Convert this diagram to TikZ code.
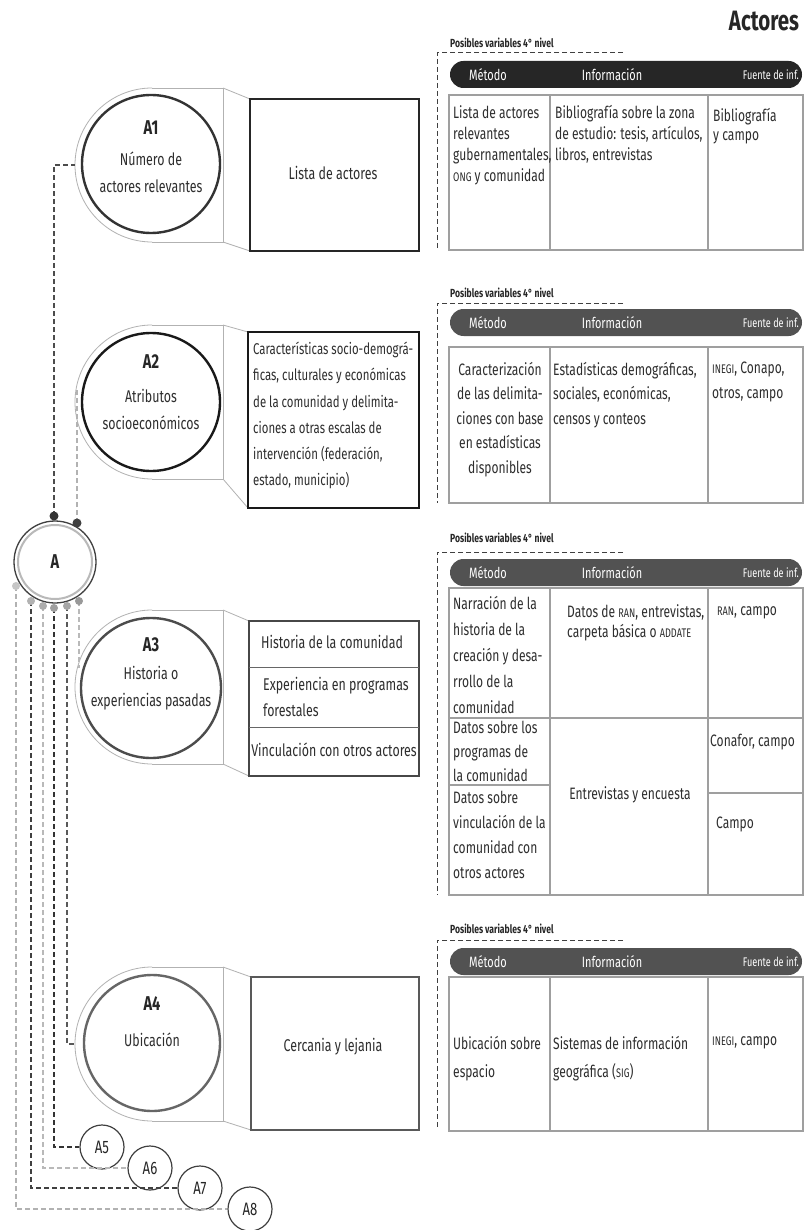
\documentclass[tikz,border=0pt]{standalone}
\usepackage{fontspec}
\setmainfont{Fira Sans}[FakeStretch=0.73]
\newcommand\mysc[1]{{\fontsize{12.5}{12}\selectfont #1}}
\newcommand\mytab[4]{%
 \begin{scope}\clip (60,{#1-90}) rectangle (152,{#1+90});
 \draw[tabline] (152,#1) circle[radius=77];
 \end{scope}
 \draw[tabline] (152,{#1-77}) -- (223,{#1-77}) -- (223,{#1+77}) -- (152,{#1+77});
 \draw[tabline] (223,{#1-77}) -- (#4,#2);
 \draw[tabline] (223,{#1+77}) -- (#4,#3);
}
\begin{document}
\begin{tikzpicture}[x=1pt,y=-1pt,
 tabline/.style={draw=gray!60, line width=0.8pt},
 incirc/.style={circle, draw=#1, line width=2.4pt, minimum size=138pt, inner sep=0},
 bigbox/.style={draw=#1, line width=2.6pt, inner sep=0},
 tbl/.style={draw=gray!75, line width=1.1pt},
 hdrtxt/.style={text=white, font=\fontsize{15}{15}\selectfont, inner sep=0},
 fuente/.style={text=white, font=\fontsize{12.5}{12}\selectfont, inner sep=0, anchor=east},
 cell/.style={font=\fontsize{16.5}{#1}\selectfont, text=black!82, inner sep=0, align=left, anchor=north west},
 cell/.default=21,
 boxt/.style={font=\fontsize{17}{26}\selectfont, text=black!82, inner sep=0},
 lbl/.style={font=\bfseries\fontsize{20}{20}\selectfont, text=black!85, inner sep=0},
 ctext/.style={font=\fontsize{17}{27}\selectfont, text=black!82, inner sep=0, align=center},
 lead/.style={dash pattern=on 5pt off 3pt, line width=1.2pt},
 bracket/.style={dash pattern=on 5pt off 3pt, line width=1pt, draw=black!75},
 poss/.style={font=\bfseries\fontsize{11.75}{12}\selectfont, anchor=west, inner sep=0, text=black!85},
 smallc/.style={circle, draw=black!75, line width=1.2pt, minimum size=44pt, inner sep=0, font=\fontsize{18}{18}\selectfont, text=black!85}
]
\fill[white] (0,0) rectangle (804,1230);
\useasboundingbox (0,0) rectangle (804,1230);

% title
\node[font=\bfseries\fontsize{28}{28}\selectfont, text=black!85, inner sep=0] (title) at (764,21) {Actores};

% ---------- row 1 ----------
\mytab{165}{99}{251}{250}
\node[incirc=black!80] (A1) at (151,164) {};
\node[lbl] (A1l) at (151,128) {A1};
\node[ctext] (A1t) at (151,172) {Número de\\actores relevantes};
\node[bigbox=black!85, minimum width=169pt, minimum height=152pt] (b1) at (334.5,175) {};
\node[boxt] (b1t) at (333,173) {Lista de actores};

\node[poss] (p1) at (450,43) {Posibles variables 4° nivel};
\draw[bracket] (623,53) -- (437,53) -- (437,250);
\fill[black!85, rounded corners=13.5pt] (450,61) rectangle (802,88);
\node[hdrtxt] (h1a) at (488,74.5) {Método};
\node[hdrtxt] (h1b) at (612,74.5) {Información};
\node[fuente] (h1c) at (799,74.5) {Fuente de inf.};
\draw[tbl] (449,95) rectangle (803,250);
\draw[tbl] (550,95) -- (550,250);
\draw[tbl] (708,95) -- (708,250);
\node[cell] (c11) at (453,105) {Lista de actores\\relevantes\\gubernamentales,\\\mysc{ONG} y comunidad};
\node[cell] (c12) at (555,105) {Bibliografía sobre la zona\\de estudio: tesis, artículos,\\libros, entrevistas};
\node[cell=19] (c13) at (713,108) {Bibliografía\\y campo};

% ---------- row 2 ----------
\mytab{402}{332}{508}{248}
\node[incirc=black!90] (A2) at (151,402) {};
\node[lbl] (A2l) at (151,362) {A2};
\node[ctext] (A2t) at (151,409) {Atributos\\socioeconómicos};
\node[bigbox=black!90, minimum width=171pt, minimum height=176pt] (b2) at (333.5,420) {};
\node[boxt, font=\fontsize{15.6}{26.2}\selectfont, align=left, anchor=north west] (b2t) at (253,342) {Características socio-demográ-\\ficas, culturales y económicas\\de la comunidad y delimita-\\ciones a otras escalas de\\intervención (federación,\\estado, municipio)};

\node[poss] (p2) at (450,293) {Posibles variables 4° nivel};
\draw[bracket] (623,303) -- (437,303) -- (437,503);
\fill[black!68, rounded corners=13.5pt] (450,309) rectangle (802,336);
\node[hdrtxt] (h2a) at (488,322.5) {Método};
\node[hdrtxt] (h2b) at (612,322.5) {Información};
\node[fuente] (h2c) at (799,322.5) {Fuente de inf.};
\draw[tbl] (449,347) rectangle (803,503);
\draw[tbl] (550,347) -- (550,503);
\draw[tbl] (708,347) -- (708,503);
\node[cell=24.5, align=center, anchor=north] (c21) at (500,362) {Caracterización\\de las delimita-\\ciones con base\\en estadísticas\\disponibles};
\node[cell=24.5] (c22) at (553,362) {Estadísticas demográficas,\\sociales, económicas,\\censos y conteos};
\node[cell=24.5] (c23) at (712,362) {\mysc{INEGI}, Conapo,\\otros, campo};

% ---------- row 3 ----------
\mytab{687}{621}{776}{249}
\node[incirc=black!70, minimum size=140pt] (A3) at (151,688) {};
\node[lbl] (A3l) at (151,645) {A3};
\node[ctext] (A3t) at (151,688.5) {Historia o\\experiencias pasadas};
\node[bigbox=black!72, minimum width=170pt, minimum height=155pt] (b3) at (334,698.5) {};
\draw[black!60, line width=1pt] (249,667) -- (419,667);
\draw[black!60, line width=1pt] (249,727) -- (419,727);
\node[boxt] (b3a) at (332,642) {Historia de la comunidad};
\node[boxt, align=left, anchor=north west] (b3b) at (263,677) {Experiencia en programas\\forestales};
\node[boxt] (b3c) at (334,750) {Vinculación con otros actores};

\node[poss] (p3) at (450,538) {Posibles variables 4° nivel};
\draw[bracket] (623,552) -- (437,552) -- (437,895);
\fill[black!68, rounded corners=13.5pt] (450,559) rectangle (802,586);
\node[hdrtxt] (h3a) at (488,572.5) {Método};
\node[hdrtxt] (h3b) at (612,572.5) {Información};
\node[fuente] (h3c) at (799,572.5) {Fuente de inf.};
\draw[tbl] (449,588) rectangle (803,895);
\draw[tbl] (550,588) -- (550,895);
\draw[tbl] (708,588) -- (708,895);
\draw[tbl] (449,718) -- (803,718);
\draw[tbl] (449,785) -- (550,785);
\draw[tbl] (708,793) -- (803,793);
\node[cell=26] (c31) at (453,596) {Narración de la\\historia de la\\creación y desa-\\rrollo de la\\comunidad};
\node[cell=20] (c32) at (567,604) {Datos de \mysc{RAN}, entrevistas,\\carpeta básica o \mysc{ADDATE}};
\node[cell] (c33) at (717,606) {\mysc{RAN}, campo};
\node[cell=24] (c34) at (453,721) {Datos sobre los\\programas de\\la comunidad};
\node[cell=25] (c35) at (453,791) {Datos sobre\\vinculación de la\\comunidad con\\otros actores};
\node[font=\fontsize{16.5}{21}\selectfont, text=black!82, inner sep=0] (c36) at (630,795) {Entrevistas y encuesta};
\node[cell] (c37) at (710,734) {Conafor, campo};
\node[cell] (c38) at (716,817) {Campo};

% ---------- row 4 ----------
\mytab{1044}{977}{1130}{251}
\node[incirc=black!60, minimum size=136pt] (A4) at (152,1043) {};
\node[lbl] (A4l) at (152,1004) {A4};
\node[ctext] (A4t) at (152,1040) {Ubicación};
\node[bigbox=black!65, minimum width=168pt, minimum height=153pt] (b4) at (335,1053.5) {};
\node[boxt] (b4t) at (333,1047) {Cercania y lejania};

\node[poss] (p4) at (450,929) {Posibles variables 4° nivel};
\draw[bracket] (623,940) -- (437,940) -- (437,1127);
\fill[black!68, rounded corners=13.5pt] (450,948) rectangle (802,975);
\node[hdrtxt] (h4a) at (488,961.5) {Método};
\node[hdrtxt] (h4b) at (612,961.5) {Información};
\node[fuente] (h4c) at (799,961.5) {Fuente de inf.};
\draw[tbl] (449,977) rectangle (803,1131);
\draw[tbl] (550,977) -- (550,1131);
\draw[tbl] (708,977) -- (708,1131);
\node[cell=28] (c41) at (453,1036) {Ubicación sobre\\espacio};
\node[cell=28] (c42) at (553,1036) {Sistemas de información\\geográfica (\mysc{SIG})};
\node[cell] (c43) at (712,1036) {\mysc{INEGI}, campo};

% ---------- small circles ----------
\node[smallc] (A5) at (102,1147) {A5};
\node[smallc] (A6) at (150,1168) {A6};
\node[smallc] (A7) at (200,1188) {A7};
\node[smallc] (A8) at (250,1209) {A8};

% ---------- central A ----------
\node[circle, draw=black!75, line width=1.3pt, minimum size=82pt, inner sep=0, font=\bfseries\fontsize{20}{20}\selectfont, text=black!85] (A) at (55,562) {A};
\draw[gray!55, line width=2pt] (A.center) circle[radius=37];

\coordinate (T1) at (54,516);
\coordinate (T2) at (77,523);
\coordinate (B3) at (79,601);
\coordinate (B4) at (67,606);
\coordinate (B5) at (54,608);
\coordinate (B6) at (43,606);
\coordinate (B7) at (31,601);
\coordinate (B8) at (16,586);
\coordinate (A1w) at (75,165);
\coordinate (A2w) at (77,388);
\coordinate (A3w) at (79,668);
\coordinate (A4w) at (75,1044);

\draw[lead, draw=black!70] (T1) |- (A1w);
\draw[lead, draw=gray!60] (T2) -- (A2w);
\draw[lead, draw=gray!55] (B3) -- (A3w);
\draw[lead, draw=black!65] (B4) |- (A4w);
\draw[lead, draw=black!80] (B5) |- (A5.west);
\draw[lead, draw=gray!55] (B6) |- (A6.west);
\draw[lead, draw=black!75] (B7) |- (A7.west);
\draw[lead, draw=gray!60] (B8) |- (A8.west);

\fill[black!80] (T1) circle[radius=4.5];
\fill[black!75] (T2) circle[radius=4.5];
\fill[gray!80] (B3) circle[radius=4];
\fill[gray!70] (B4) circle[radius=4];
\fill[gray!75] (B5) circle[radius=4];
\fill[gray!65] (B6) circle[radius=4];
\fill[gray!60] (B7) circle[radius=4];
\fill[gray!45] (B8) circle[radius=4];
\end{tikzpicture}
\end{document}
